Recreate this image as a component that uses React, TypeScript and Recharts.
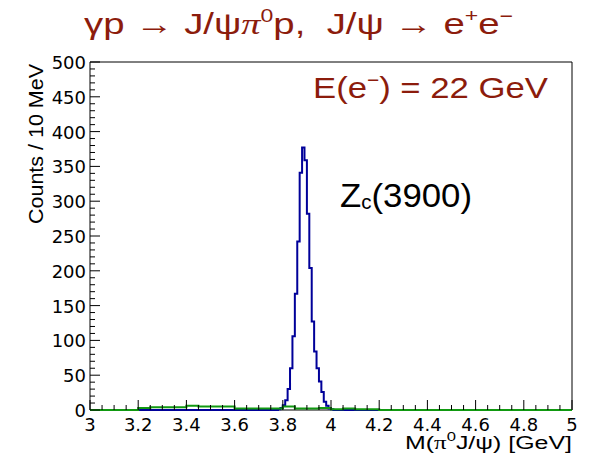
import { LineChart, Line, XAxis, YAxis, ReferenceArea } from "recharts";

// blue: signal, 10 MeV bins starting at 3.76 GeV
const peakStart = 3.76;
const peakBin = 0.01;
const peakCounts = [
  0, 0, 1, 3, 7, 14, 30, 60, 106, 167, 242, 341, 377, 359, 282, 204, 127, 84, 60, 41, 26, 12, 6, 2, 1, 0,
];

// green: background, 50 MeV bins from 3.0 GeV
const bkgStart = 3.0;
const bkgBin = 0.05;
const bkgCounts = [
  0, 0, 0, 0, 3, 4, 4, 4, 6, 5, 5, 5, 2, 2, 2, 2, 5, 2, 2, 3,
  1, 2, 1, 1, 0, 0, 0, 0, 0, 0, 0, 0, 0, 0, 0, 0, 0, 0, 0, 0,
];

const xMajorTicks = [3, 3.2, 3.4, 3.6, 3.8, 4, 4.2, 4.4, 4.6, 4.8, 5];
const yMajorTicks = [0, 50, 100, 150, 200, 250, 300, 350, 400, 450, 500];

const xAllTicks = Array.from({ length: 41 }, (_, i) => +(3 + i * 0.05).toFixed(2));
const yAllTicks = Array.from({ length: 51 }, (_, i) => i * 10);

const toSteps = (start: number, width: number, counts: number[]) => {
  const pts: { x: number; y: number }[] = [];
  if (start > 3) pts.push({ x: 3, y: 0 });
  counts.forEach((c, i) => pts.push({ x: +(start + i * width).toFixed(3), y: c }));
  const end = +(start + counts.length * width).toFixed(3);
  pts.push({ x: end, y: counts[counts.length - 1] });
  if (end < 5) pts.push({ x: 5, y: 0 });
  return pts;
};

const peakData = toSteps(peakStart, peakBin, peakCounts);
const bkgData = toSteps(bkgStart, bkgBin, bkgCounts);

const RED = "#8c1c0c";
const tickFont = "DejaVu Sans";

const isMajor = (list: number[], v: number) => list.some((t) => Math.abs(t - v) < 1e-6);

const XTick = (props: any) => {
  const { x, y, payload } = props;
  const v = payload.value;
  const major = isMajor(xMajorTicks, v);
  return (
    <g>
      <line x1={x} x2={x} y1={y} y2={y - (major ? 10 : 5)} stroke="#000" />
      {major && (
        <text x={x} y={y + 21} textAnchor="middle" fontSize={18} fontFamily={tickFont} fill="#000">
          {String(Math.round(v * 10) / 10)}
        </text>
      )}
    </g>
  );
};

const YTick = (props: any) => {
  const { x, y, payload } = props;
  const v = payload.value;
  const major = isMajor(yMajorTicks, v);
  return (
    <g>
      <line x1={x} x2={x + (major ? 10 : 5)} y1={y} y2={y} stroke="#000" />
      {major && (
        <text x={x - 4} y={y + 7} textAnchor="end" fontSize={18} fontFamily={tickFont} fill="#000">
          {v}
        </text>
      )}
    </g>
  );
};

export default function App() {
  return (
    <div style={{ position: "absolute", left: 0, top: 0, width: 592, height: 462, background: "#fff" }}>
      <LineChart width={592} height={462} margin={{ top: 62, right: 20, bottom: 0, left: 0 }}>
        <XAxis
          type="number"
          dataKey="x"
          domain={[3, 5]}
          ticks={xAllTicks}
          interval={0}
          tickSize={0}
          tickMargin={0}
          tickLine={false}
          axisLine={false}
          tick={<XTick />}
          height={52}
        />
        <YAxis
          type="number"
          domain={[0, 500]}
          ticks={yAllTicks}
          interval={0}
          tickSize={0}
          tickMargin={0}
          tickLine={false}
          axisLine={false}
          tick={<YTick />}
          width={90}
        />
        <ReferenceArea x1={3} x2={5} y1={0} y2={500} fill="none" stroke="#000" strokeWidth={1} fillOpacity={0} />
        <Line
          data={peakData}
          dataKey="y"
          type="stepAfter"
          stroke="#000099"
          strokeWidth={2}
          dot={false}
          isAnimationActive={false}
          zIndex={600}
        />
        <Line
          data={bkgData}
          dataKey="y"
          type="stepAfter"
          stroke="#119911"
          strokeWidth={2}
          dot={false}
          isAnimationActive={false}
          zIndex={610}
        />
      </LineChart>
      <svg width={592} height={462} style={{ position: "absolute", left: 0, top: 0, pointerEvents: "none" }}>
        <text
          x={84}
          y={34}
          xmlSpace="preserve"
          fontSize={30}
          fill={RED}
          fontFamily="Liberation Sans"
          textLength={429}
          lengthAdjust="spacingAndGlyphs"
        >
          γp → J/ψ<tspan fontFamily="Liberation Serif" fontStyle="italic">π</tspan>
          <tspan fontSize={18} dy={-12}>0</tspan>
          <tspan dy={12}>{"p,  J/ψ → e"}</tspan>
          <tspan fontSize={18} dy={-12}>+</tspan>
          <tspan dy={12}>e</tspan>
          <tspan fontSize={18} dy={-12}>−</tspan>
        </text>
        <text
          x={313}
          y={98}
          xmlSpace="preserve"
          fontSize={30}
          fill={RED}
          fontFamily="Liberation Sans"
          textLength={235}
          lengthAdjust="spacingAndGlyphs"
        >
          E(e<tspan fontSize={18} dy={-12}>−</tspan>
          <tspan dy={12}>{") = 22 GeV"}</tspan>
        </text>
        <text
          x={340}
          y={207}
          fontSize={34}
          fill="#000"
          fontFamily="Liberation Sans"
          textLength={132}
          lengthAdjust="spacingAndGlyphs"
        >
          Z<tspan fontSize={20} dy={2}>c</tspan>
          <tspan dy={-2}>(3900)</tspan>
        </text>
        <text
          x={43}
          y={64}
          transform="rotate(-90 43 64)"
          textAnchor="end"
          fontSize={20}
          fill="#000"
          fontFamily="Liberation Sans"
          textLength={160}
          lengthAdjust="spacingAndGlyphs"
        >
          Counts / 10 MeV
        </text>
        <text
          x={405}
          y={449}
          xmlSpace="preserve"
          fontSize={18}
          fill="#000"
          fontFamily="Liberation Sans"
          textLength={167}
          lengthAdjust="spacingAndGlyphs"
        >
          M(<tspan fontFamily="Liberation Serif">π</tspan>
          <tspan fontSize={12} dy={-8}>0</tspan>
          <tspan dy={8}>{"J/ψ) [GeV]"}</tspan>
        </text>
      </svg>
    </div>
  );
}
